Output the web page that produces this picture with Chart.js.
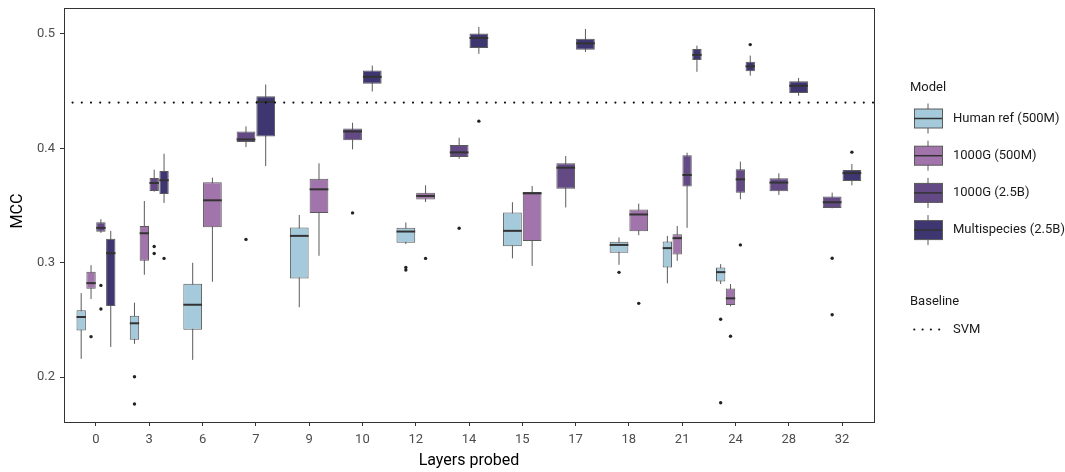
<!DOCTYPE html>
<html>
<head>
<meta charset="utf-8">
<script src="https://cdn.jsdelivr.net/npm/chart.js@4/dist/chart.umd.min.js"></script>
<style>
  html, body { margin: 0; background: #fff; }
  #wrap { width: 1065px; height: 472px; }
</style>
</head>
<body>
<div id="wrap"><canvas id="chart"></canvas></div>
<script>
const layers = ['0', '3', '6', '7', '9', '10', '12', '14', '15', '17', '18', '21', '24', '28', '32'];
const models = ['Human ref (500M)', '1000G (500M)', '1000G (2.5B)', 'Multispecies (2.5B)'];
const fills = ['#a5cadb', '#a174ab', '#634a85', '#3d3670'];
const yTicks = [0.2, 0.3, 0.4, 0.5];
const svmBaseline = 0.44;

// per layer: [lower whisker, q1, median, q3, upper whisker], null = not probed
const humanRef = [
  [0.216, 0.2407, 0.2526, 0.2584, 0.2735],
  [0.2291, 0.2328, 0.2471, 0.2537, 0.2651],
  [0.2151, 0.2415, 0.2633, 0.2816, 0.300],
  null,
  [0.2611, 0.2863, 0.3235, 0.3308, 0.3418],
  null,
  [0.3163, 0.3174, 0.3273, 0.3305, 0.3352],
  null,
  [0.3038, 0.3145, 0.3279, 0.3439, 0.3529],
  null,
  [0.2982, 0.3087, 0.3156, 0.3183, 0.3221],
  [0.282, 0.2959, 0.3128, 0.3186, 0.3235],
  [0.2814, 0.2837, 0.2918, 0.2959, 0.2988],
  null,
  null
];
const humanRefOut = [[], [0.2003, 0.1765], [], [], [], [], [0.2959, 0.2936], [], [], [], [0.2916], [], [0.2506, 0.1776], [], []];

const g1000Small = [
  [0.2683, 0.2773, 0.2822, 0.2921, 0.2979],
  [0.2895, 0.3017, 0.3258, 0.3322, 0.354],
  [0.2834, 0.3311, 0.3546, 0.3703, 0.3744],
  null,
  [0.3061, 0.3436, 0.3642, 0.3735, 0.3869],
  null,
  [0.3531, 0.3552, 0.3584, 0.3613, 0.3677],
  null,
  [0.2973, 0.3191, 0.3607, 0.3619, 0.3671],
  null,
  [0.3241, 0.3276, 0.3422, 0.3465, 0.3517],
  [0.3017, 0.3073, 0.3215, 0.325, 0.3322],
  [0.2619, 0.2631, 0.2689, 0.2776, 0.2814],
  null,
  null
];
const g1000SmallOut = [[0.2354], [], [], [], [], [], [0.3038], [], [], [], [0.2645], [], [0.2358], [], []];

const g1000Large = [
  [0.3261, 0.327, 0.3305, 0.3354, 0.3381],
  [0.3622, 0.3627, 0.3697, 0.3741, 0.3814],
  null,
  [0.4011, 0.4055, 0.4078, 0.4148, 0.4192],
  null,
  [0.3991, 0.407, 0.4148, 0.4174, 0.4224],
  null,
  [0.391, 0.3924, 0.3965, 0.4029, 0.4093],
  null,
  [0.3483, 0.3648, 0.3831, 0.3869, 0.3933],
  null,
  [0.3305, 0.3666, 0.3767, 0.3939, 0.3962],
  [0.3555, 0.3613, 0.3729, 0.3817, 0.3884],
  [0.3593, 0.3625, 0.3701, 0.3738, 0.3782],
  [0.3476, 0.3479, 0.3529, 0.3579, 0.3613]
];
const g1000LargeOut = [[0.2802, 0.2596], [0.3142, 0.3081], [], [0.3204], [], [0.3436], [], [0.3302], [], [], [], [], [0.3156], [], [0.304, 0.2546]];

const multispecies = [
  [0.2264, 0.2622, 0.3084, 0.3209, 0.3279],
  [0.3523, 0.3601, 0.3721, 0.3802, 0.3953],
  null,
  [0.3845, 0.4104, 0.4407, 0.4456, 0.4558],
  null,
  [0.4497, 0.4564, 0.4625, 0.468, 0.4724],
  null,
  [0.4826, 0.4878, 0.4965, 0.5003, 0.5061],
  null,
  [0.4843, 0.4863, 0.4918, 0.4959, 0.5044],
  null,
  [0.4669, 0.4773, 0.4817, 0.4869, 0.4898],
  [0.4636, 0.4674, 0.4717, 0.4758, 0.4811],
  [0.4459, 0.4485, 0.4547, 0.4587, 0.4616],
  [0.3677, 0.3715, 0.3784, 0.3811, 0.3863]
];
const multispeciesOut = [[], [0.3038], [], [], [], [], [], [0.4238], [], [], [], [], [0.4907], [], [0.3967]];

const allStats = [humanRef, g1000Small, g1000Large, multispecies];
const allOut = [humanRefOut, g1000SmallOut, g1000LargeOut, multispeciesOut];

Chart.defaults.font.family = 'Roboto';

const edge = '#5a5a5a';
const ink = '#333333';

// boxes are floating bars (q1..q3); whiskers, medians, outliers drawn here
const boxPlot = {
  id: 'boxPlot',
  beforeDatasetsDraw(chart) {
    const ctx = chart.ctx, y = chart.scales.y;
    ctx.save();
    ctx.strokeStyle = edge;
    ctx.lineWidth = 1;
    chart.data.datasets.forEach((ds, d) => {
      chart.getDatasetMeta(d).data.forEach((bar, i) => {
        const s = ds.stats[i];
        if (!s) return;
        ctx.beginPath();
        ctx.moveTo(bar.x, y.getPixelForValue(s[0]));
        ctx.lineTo(bar.x, y.getPixelForValue(s[4]));
        ctx.stroke();
      });
    });
    ctx.restore();
  },
  afterDatasetsDraw(chart) {
    const ctx = chart.ctx, y = chart.scales.y, area = chart.chartArea;
    ctx.save();
    chart.data.datasets.forEach((ds, d) => {
      chart.getDatasetMeta(d).data.forEach((bar, i) => {
        const s = ds.stats[i];
        if (!s) return;
        const half = bar.width / 2;
        const my = y.getPixelForValue(s[2]);
        ctx.strokeStyle = ink;
        ctx.lineWidth = 2;
        ctx.beginPath();
        ctx.moveTo(bar.x - half, my);
        ctx.lineTo(bar.x + half, my);
        ctx.stroke();
        ctx.fillStyle = '#222';
        ds.outliers[i].forEach(v => {
          ctx.beginPath();
          ctx.arc(bar.x, y.getPixelForValue(v), 1.7, 0, Math.PI * 2);
          ctx.fill();
        });
      });
    });

    // SVM baseline
    const by = y.getPixelForValue(svmBaseline);
    ctx.strokeStyle = '#111';
    ctx.lineWidth = 2.2;
    ctx.lineCap = 'round';
    ctx.setLineDash([0, 9.2]);
    ctx.lineDashOffset = 0.6;
    ctx.beginPath();
    ctx.moveTo(area.left, by);
    ctx.lineTo(area.right, by);
    ctx.stroke();
    ctx.restore();
  },
  afterDraw(chart) {
    const ctx = chart.ctx, area = chart.chartArea;
    ctx.save();
    ctx.strokeStyle = ink;
    ctx.lineWidth = 1;
    ctx.strokeRect(area.left + 0.5, area.top + 0.5, area.right - area.left, area.bottom - area.top);

    // axis titles
    ctx.fillStyle = '#000';
    ctx.font = '16px Roboto';
    ctx.textAlign = 'center';
    ctx.textBaseline = 'middle';
    ctx.fillText('Layers probed', (area.left + area.right) / 2, 461);
    ctx.save();
    ctx.translate(18, (area.top + area.bottom) / 2 - 4);
    ctx.rotate(-Math.PI / 2);
    ctx.fillText('MCC', 0, 0);
    ctx.restore();

    // legend
    const lx = 914, tx = 953;
    ctx.textAlign = 'left';
    ctx.font = '13px Roboto';
    ctx.fillStyle = '#1a1a1a';
    ctx.fillText('Model', 910, 88);
    models.forEach((m, k) => {
      const cy = 118.5 + k * 37.2;
      ctx.strokeStyle = edge;
      ctx.lineWidth = 1;
      ctx.beginPath();
      ctx.moveTo(lx + 14, cy - 15);
      ctx.lineTo(lx + 14, cy + 15);
      ctx.stroke();
      ctx.fillStyle = fills[k];
      ctx.fillRect(lx, cy - 9.5, 28, 19);
      ctx.strokeRect(lx + 0.5, cy - 9.5, 28, 19);
      ctx.strokeStyle = ink;
      ctx.lineWidth = 1.5;
      ctx.beginPath();
      ctx.moveTo(lx, cy);
      ctx.lineTo(lx + 28, cy);
      ctx.stroke();
      ctx.fillStyle = '#1a1a1a';
      ctx.fillText(m, tx, cy);
    });
    ctx.fillText('Baseline', 910, 301.5);
    ctx.strokeStyle = '#111';
    ctx.lineWidth = 2.2;
    ctx.lineCap = 'round';
    ctx.setLineDash([0, 8.3]);
    ctx.beginPath();
    ctx.moveTo(914.3, 329.5);
    ctx.lineTo(942, 329.5);
    ctx.stroke();
    ctx.setLineDash([]);
    ctx.fillText('SVM', tx, 329.5);
    ctx.restore();
  }
};

new Chart(document.getElementById('chart'), {
  type: 'bar',
  data: {
    labels: layers,
    datasets: models.map((m, k) => ({
      label: m,
      data: allStats[k].map(s => (s ? [s[1], s[3]] : null)),
      stats: allStats[k],
      outliers: allOut[k],
      backgroundColor: fills[k],
      borderColor: edge,
      borderWidth: 1,
      borderSkipped: false,
      skipNull: true,
      categoryPercentage: 0.74,
      barPercentage: 0.95
    }))
  },
  options: {
    responsive: true,
    maintainAspectRatio: false,
    animation: false,
    layout: { padding: { left: 0, top: 8, right: 191, bottom: 0 } },
    plugins: {
      legend: { display: false },
      tooltip: { enabled: false }
    },
    scales: {
      x: {
        offset: true,
        afterBuildTicks(scale) {
          // ggplot-style 0.6 category padding at each end
          scale._startValue = -0.6;
          scale._valueRange = layers.length - 1 + 1.2;
        },
        afterFit(scale) {
          scale.height = 50;
          scale.paddingLeft = 0;
          scale.paddingRight = 0;
        },
        grid: { display: true, offset: false, drawOnChartArea: false, drawTicks: true, tickLength: 4, color: ink },
        border: { display: true, color: ink },
        ticks: { color: '#4d4d4d', font: { size: 13 }, padding: 6, maxRotation: 0, autoSkip: false }
      },
      y: {
        min: 0.1608,
        max: 0.5227,
        afterBuildTicks(scale) {
          scale.ticks = yTicks.map(v => ({ value: v }));
        },
        afterFit(scale) {
          scale.width = 64;
          scale.paddingTop = 0;
          scale.paddingBottom = 0;
        },
        grid: { display: true, drawOnChartArea: false, drawTicks: true, tickLength: 4, color: ink },
        border: { display: true, color: ink },
        ticks: { color: '#4d4d4d', font: { size: 13 }, padding: 5, callback: v => v.toFixed(1) }
      }
    }
  },
  plugins: [boxPlot]
});
</script>
</body>
</html>
